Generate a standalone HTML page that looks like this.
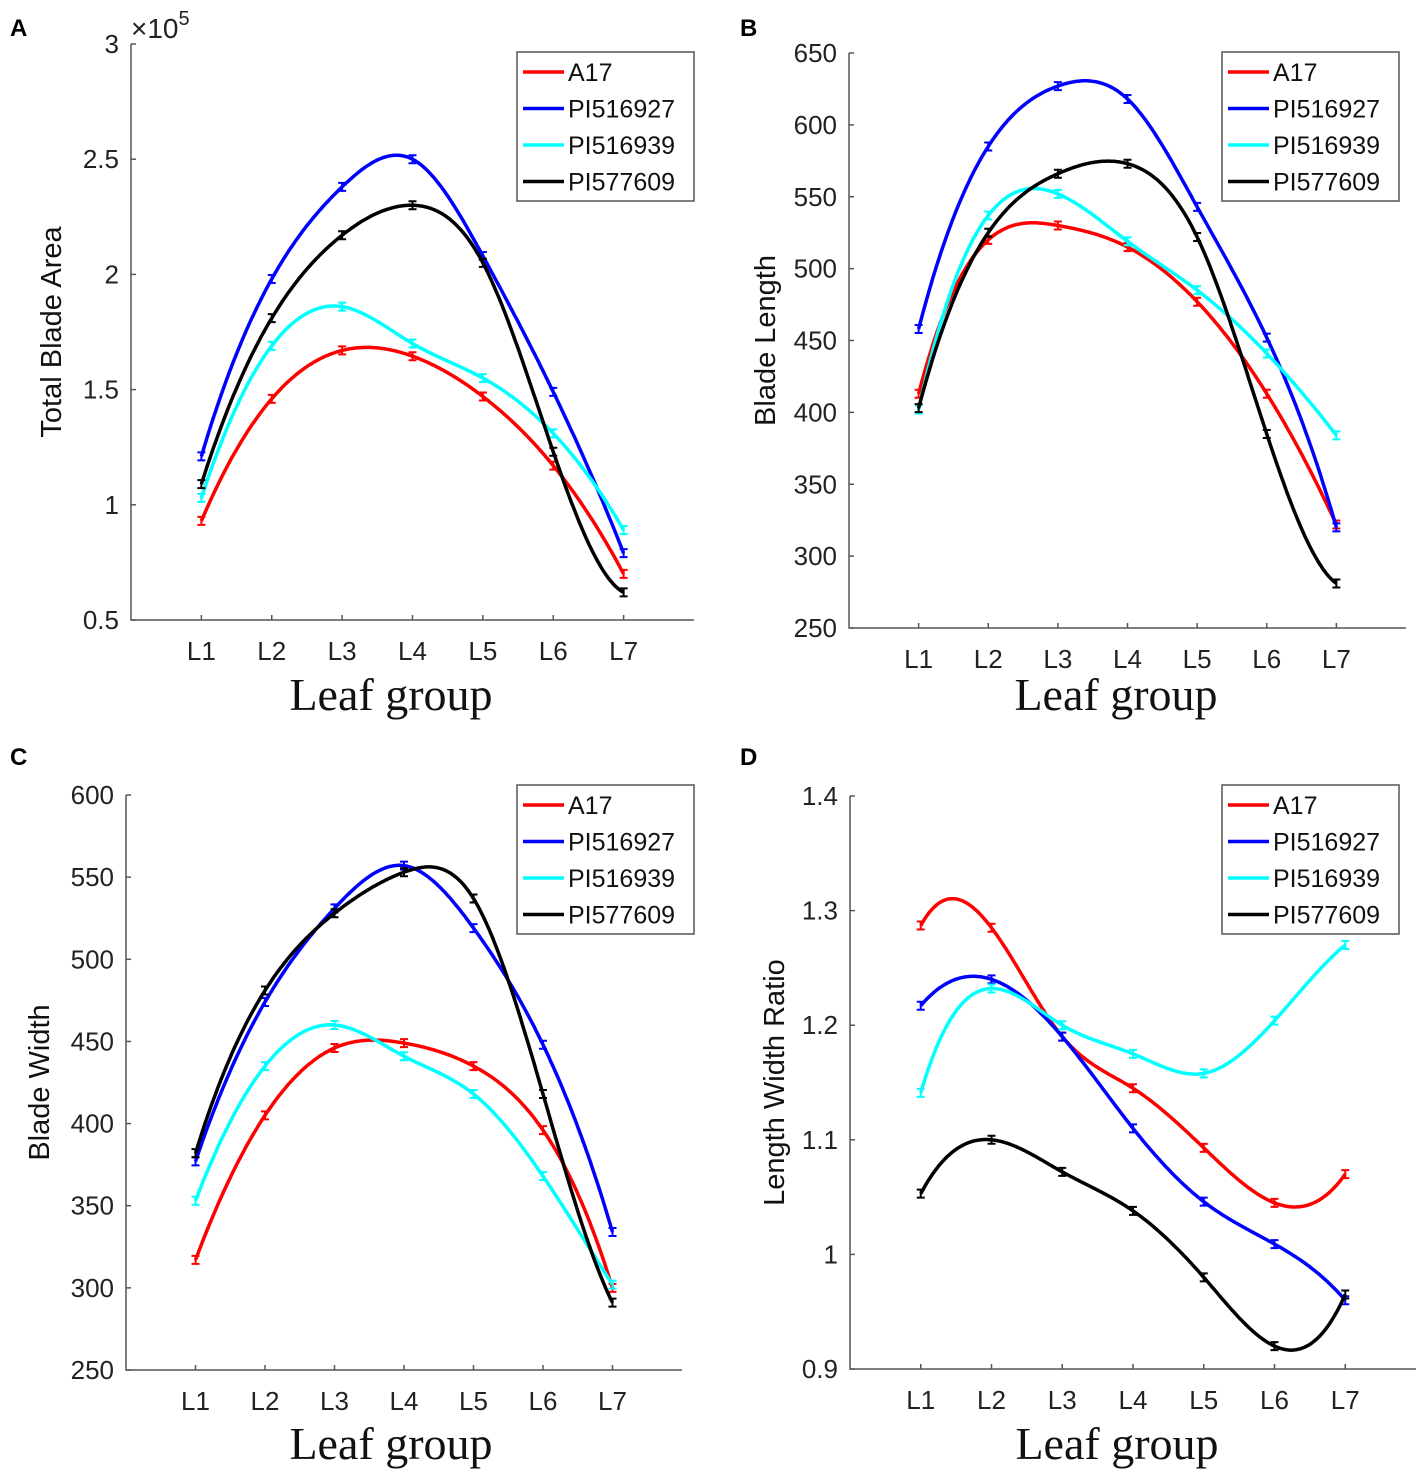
<!DOCTYPE html>
<html><head><meta charset="utf-8">
<style>
body{margin:0;background:#fff;}
svg{display:block;font-family:"Liberation Sans",sans-serif;}
</style></head>
<body>
<svg id="chart" width="1417" height="1470" xmlns="http://www.w3.org/2000/svg"></svg>
<script>
const categories = ["L1","L2","L3","L4","L5","L6","L7"];
const seriesNames = ["A17","PI516927","PI516939","PI577609"];
const seriesColors = ["#ff0000","#0000ff","#00ffff","#000000"];
const areaA17 = [0.93,1.46,1.67,1.645,1.47,1.17,0.70];
const area927 = [1.21,1.98,2.38,2.50,2.08,1.49,0.79];
const area939 = [1.03,1.69,1.86,1.70,1.55,1.31,0.89];
const area609 = [1.09,1.81,2.17,2.30,2.05,1.23,0.62];
const lenA17 = [413,520,530,515,477,413,322];
const len927 = [458,585,627,618,543,452,320];
const len939 = [402,537,552,519,485,441,384];
const len609 = [403,525,566,573,522,385,281];
const widA17 = [317,405,446,449,435,396,300];
const wid927 = [377,474,531,557,519,448,334];
const wid939 = [353,435,460,441,418,368,302];
const wid609 = [382,481,528,553,537,418,291];
const ratA17 = [1.287,1.285,1.19,1.145,1.093,1.045,1.07];
const rat927 = [1.217,1.24,1.19,1.11,1.046,1.009,0.96];
const rat939 = [1.141,1.232,1.20,1.175,1.158,1.204,1.27];
const rat609 = [1.053,1.10,1.072,1.038,0.98,0.92,0.965];
const ticksA = [0.5,1,1.5,2,2.5,3];
const ticksA_labels = ["0.5","1","1.5","2","2.5","3"];
const ticksB = [250,300,350,400,450,500,550,600,650];
const ticksC = [250,300,350,400,450,500,550,600];
const ticksD = [0.9,1,1.1,1.2,1.3,1.4];
const ticksD_labels = ["0.9","1","1.1","1.2","1.3","1.4"];

const NS="http://www.w3.org/2000/svg";
const svg=document.getElementById('chart');
function mk(tag,attrs,parent){const e=document.createElementNS(NS,tag);for(const k in attrs)e.setAttribute(k,attrs[k]);(parent||svg).appendChild(e);return e;}

function solve(A,b){const n=b.length;A=A.map(r=>r.slice());b=b.slice();
  for(let i=0;i<n;i++){let p=i;for(let r=i+1;r<n;r++)if(Math.abs(A[r][i])>Math.abs(A[p][i]))p=r;
    [A[i],A[p]]=[A[p],A[i]];[b[i],b[p]]=[b[p],b[i]];
    for(let r=i+1;r<n;r++){const f=A[r][i]/A[i][i];for(let c=i;c<n;c++)A[r][c]-=f*A[i][c];b[r]-=f*b[i];}}
  const x=new Array(n).fill(0);for(let i=n-1;i>=0;i--){let s=b[i];for(let c=i+1;c<n;c++)s-=A[i][c]*x[c];x[i]=s/A[i][i];}return x;}
function spline(ys){ // not-a-knot cubic spline, unit spacing, x=1..n
  const n=ys.length;const A=[],b=[];
  for(let i=0;i<n;i++){A.push(new Array(n).fill(0));b.push(0);}
  A[0][0]=1;A[0][1]=-2;A[0][2]=1;
  A[n-1][n-1]=1;A[n-1][n-2]=-2;A[n-1][n-3]=1;
  for(let i=1;i<n-1;i++){A[i][i-1]=1;A[i][i]=4;A[i][i+1]=1;b[i]=6*(ys[i+1]-2*ys[i]+ys[i-1]);}
  const M=solve(A,b);
  return t=>{let j=Math.min(n-2,Math.max(0,Math.floor(t-1)));const u=t-1-j;
    return M[j]*(1-u)**3/6+M[j+1]*u**3/6+(ys[j]-M[j]/6)*(1-u)+(ys[j+1]-M[j+1]/6)*u;};
}

function panel(cfg){
  const g=mk('g',{});
  
  
  const {x0,x1,y0,y1,ymin,ymax}=cfg;
  const sx=v=>x0+(x1-x0)*v/8;
  const sy=v=>y1-(y1-y0)*(v-ymin)/(ymax-ymin);
  const ax=mk('path',{d:`M${x0},${y0}V${y1}H${x1}`,stroke:'#555',fill:'none','stroke-width':1.5},g);
  
  cfg.ticks.forEach((t,i)=>{
    mk('line',{x1:x0,x2:x0+5,y1:sy(t),y2:sy(t),stroke:'#555','stroke-width':1.5},g);
    const tx=mk('text',{x:x0-12,y:sy(t)+9,'text-anchor':'end','font-size':26,fill:'#222'},g);
    tx.textContent=cfg.tickLabels?cfg.tickLabels[i]:String(t);
    
  });
  categories.forEach((c,i)=>{
    mk('line',{x1:sx(i+1),x2:sx(i+1),y1:y1,y2:y1-5,stroke:'#555','stroke-width':1.5},g);
    const tx=mk('text',{x:sx(i+1),y:y1+40,'text-anchor':'middle','font-size':26,fill:'#222'},g);
    tx.textContent=c;
    
  });
  const xl=mk('text',{x:cfg.tx,y:cfg.ty,'text-anchor':'middle','font-size':46,'font-family':'Liberation Serif, serif',fill:'#111'},g);
  xl.textContent='Leaf group';
  const yl=mk('text',{x:0,y:0,'text-anchor':'middle','font-size':29,fill:'#111',transform:`translate(${cfg.ylx},${(y0+y1)/2}) rotate(-90)`},g);
  yl.textContent=cfg.ylabel;
  const pl=mk('text',{x:cfg.lx,y:cfg.ly,'font-size':24,'font-weight':'bold',fill:'#000'},g);
  pl.textContent=cfg.letter;
  if(cfg.exp){const e=mk('text',{x:x0,y:y0-6,'font-size':28,fill:'#222'},g);e.innerHTML='×10<tspan dy="-13" font-size="20">5</tspan>';}
  cfg.series.forEach((ys,k)=>{
    const f=spline(ys);let d='';
    for(let t=1;t<=7.0001;t+=0.02){d+=(d?'L':'M')+sx(t).toFixed(1)+','+sy(f(t)).toFixed(1);}
    const p=mk('path',{d:d,fill:'none',stroke:seriesColors[k],'stroke-width':3.5},g);
    
    ys.forEach((v,i)=>{
      const cx=sx(i+1),cy=sy(v);
      const eb=mk('path',{d:`M${cx},${cy-4}V${cy+4}M${cx-4},${cy-4}H${cx+4}M${cx-4},${cy+4}H${cx+4}`,stroke:seriesColors[k],'stroke-width':2,fill:'none'},g);
      
    });
  });
  const lg=mk('g',{},g);
  mk('rect',{x:cfg.legx,y:cfg.legy,width:177,height:149,fill:'#fff',stroke:'#555','stroke-width':1.5},lg);
  seriesNames.forEach((s,k)=>{
    const yy=cfg.legy+20+k*36.5;
    mk('line',{x1:cfg.legx+6,x2:cfg.legx+47,y1:yy,y2:yy,stroke:seriesColors[k],'stroke-width':3.5},lg);
    const t=mk('text',{x:cfg.legx+51,y:yy+9,'font-size':25,fill:'#111'},lg);t.textContent=s;
    
  });
}
panel({name:'panel-a',letter:'A',lx:10,ly:36,x0:131,x1:694,y0:44,y1:620,ymin:0.5,ymax:3,ticks:ticksA,tickLabels:ticksA_labels,ylabel:'Total Blade Area',ylx:61,exp:true,legx:517,legy:52,tx:391,ty:710,series:[areaA17,area927,area939,area609]});
panel({name:'panel-b',letter:'B',lx:740,ly:36,x0:849,x1:1406,y0:53,y1:628,ymin:250,ymax:650,ticks:ticksB,ylabel:'Blade Length',ylx:775,legx:1222,legy:52,tx:1116,ty:710,series:[lenA17,len927,len939,len609]});
panel({name:'panel-c',letter:'C',lx:10,ly:765,x0:126,x1:682,y0:795,y1:1370,ymin:250,ymax:600,ticks:ticksC,ylabel:'Blade Width',ylx:49,legx:517,legy:785,tx:391,ty:1459,series:[widA17,wid927,wid939,wid609]});
panel({name:'panel-d',letter:'D',lx:740,ly:765,x0:850,x1:1416,y0:796,y1:1369,ymin:0.9,ymax:1.4,ticks:ticksD,tickLabels:ticksD_labels,ylabel:'Length Width Ratio',ylx:784,legx:1222,legy:785,tx:1117,ty:1459,series:[ratA17,rat927,rat939,rat609]});
</script>
</body></html>
